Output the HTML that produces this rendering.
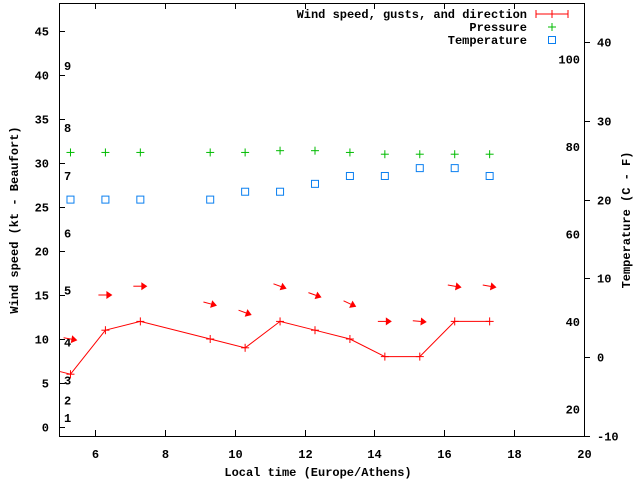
<!DOCTYPE html>
<html><head><meta charset="utf-8"><style>
body{margin:0;background:#fff}
svg{display:block}
text{font-family:"Liberation Mono","DejaVu Sans Mono",monospace;font-size:12px;font-weight:bold;fill:#000}
</style></head><body>
<svg id="chart" width="640" height="480" viewBox="0 0 640 480" xmlns="http://www.w3.org/2000/svg">
<g id="axes"></g>
<g id="marks"></g>
<g id="legend">
  <text x="527" y="18" text-anchor="end">Wind speed, gusts, and direction</text>
  <g stroke="#f00" stroke-width="1">
    <line x1="536" y1="14" x2="568" y2="14"/><line x1="536" y1="10" x2="536" y2="18"/><line x1="568" y1="10" x2="568" y2="18"/><line x1="552" y1="10" x2="552" y2="18"/>
  </g>
  <text x="527" y="31" text-anchor="end">Pressure</text>
  <g stroke="#0b0"><line x1="548" y1="27" x2="556" y2="27"/><line x1="552" y1="23" x2="552" y2="31"/></g>
  <text x="527" y="44" text-anchor="end">Temperature</text>
  <rect x="548.5" y="36.5" width="7" height="7" fill="none" stroke="#0a7ff0"/>
</g>
</svg>
<script>
const times=[5.3,6.3,7.3,9.3,10.3,11.3,12.3,13.3,14.3,15.3,16.3,17.3];
const windSpeed=[6,11,12,10,9,12,11,10,8,8,12,12];
const gusts=[10,15,16,14,13,16,15,14,12,12,16,16];
const windDirDeg=[280,270,270,285,290,290,290,295,270,275,280,280];
const pressure=[31.2,31.2,31.2,31.2,31.2,31.4,31.4,31.2,31.0,31.0,31.0,31.0];
const temperature=[20,20,20,20,21,21,22,23,23,24,24,23];
const xTicks=[6,8,10,12,14,16,18,20];
const yTicks=[0,5,10,15,20,25,30,35,40,45];
const cTicks=[-10,0,10,20,30,40];
const fTicks=[20,40,60,80,100];
const bftNums=[1,2,3,4,5,6,7,8,9];
const bftSpeeds=[1,3,5.3,9.6,15.5,22,28.5,34,41];

const L=59,R=584,T=3,B=436;
const X=v=>60+(v-5)*34.93;
const Y=v=>427-v*8.8;
const YC=c=>357-c*7.87;
const NS="http://www.w3.org/2000/svg";
function mk(tag,attrs,parent,txt){const e=document.createElementNS(NS,tag);for(const k in attrs)e.setAttribute(k,attrs[k]);if(txt!==undefined)e.textContent=txt;parent.appendChild(e);return e;}
const ax=document.getElementById('axes'),mg=document.getElementById('marks');

let fr=mk('rect',{x:L+.5,y:T+.5,width:R-L,height:B-T,fill:'none',stroke:'#000'},ax);


xTicks.forEach(v=>{const x=Math.round(X(v))+.5;
 mk('line',{x1:x,x2:x,y1:B,y2:B-6,stroke:'#000'},ax);
 mk('line',{x1:x,x2:x,y1:T,y2:T+6,stroke:'#000'},ax);
 const t=mk('text',{x:x,y:B+22,'text-anchor':'middle'},ax,String(v));
 
 });
yTicks.forEach(v=>{const y=Math.round(Y(v))+.5;
 mk('line',{x1:L,x2:L+6,y1:y,y2:y,stroke:'#000'},ax);
 const t=mk('text',{x:L-10,y:y+4,'text-anchor':'end'},ax,String(v));
 
 });
cTicks.forEach(v=>{const y=Math.round(YC(v))+.5;
 mk('line',{x1:R,x2:R+6,y1:y,y2:y,stroke:'#000'},ax);
 const t=mk('text',{x:R+13,y:y+4},ax,String(v));
 
 });
fTicks.forEach(v=>{const y=YC((v-32)*5/9);
 const t=mk('text',{x:R-4,y:y+4,'text-anchor':'end'},ax,String(v));
 
 });
bftNums.forEach((n,i)=>{const t=mk('text',{x:64,y:Y(bftSpeeds[i])+4},ax,String(n));
 
 });
let xt=mk('text',{x:318,y:476,'text-anchor':'middle'},ax,'Local time (Europe/Athens)');

let yt=mk('text',{x:18,y:220,'text-anchor':'middle',transform:'rotate(-90 18 220)'},ax,'Wind speed (kt - Beaufort)');

let y2=mk('text',{x:630,y:220,'text-anchor':'middle',transform:'rotate(-90 630 220)'},ax,'Temperature (C - F)');


// wind line
let pts=[[L+1,Y(6.3)]].concat(times.map((t,i)=>[X(t),Y(windSpeed[i])]));
let wl=mk('polyline',{points:pts.map(p=>p.join(',')).join(' '),fill:'none',stroke:'#f00'},mg);


times.forEach((t,i)=>{const x=X(t),y=Y(windSpeed[i]);
 const g=mk('g',{stroke:'#f00'},mg);
 
 
 mk('line',{x1:x-4,x2:x+4,y1:y,y2:y},g);mk('line',{x1:x,x2:x,y1:y-4,y2:y+4},g);
 // gust arrow
 const a=(windDirDeg[i]-270)*Math.PI/180; const gx=X(t),gy=Y(gusts[i]);
 const dx=Math.cos(a),dy=Math.sin(a);
 const hx=gx+dx*7,hy=gy+dy*7,tx=gx-dx*7,ty=gy-dy*7;
 const ar=mk('g',{},mg);
 
 
 mk('line',{x1:tx,y1:ty,x2:hx-dx*4,y2:hy-dy*4,stroke:'#f00'},ar);
 const px=-dy,py=dx;
 mk('polygon',{points:`${hx},${hy} ${hx-dx*6+px*4},${hy-dy*6+py*4} ${hx-dx*6-px*4},${hy-dy*6-py*4}`,fill:'#f00'},ar);
 // pressure
 const py2=Y(pressure[i]);
 const pg=mk('g',{stroke:'#0b0'},mg);
 
 
 mk('line',{x1:x-4,x2:x+4,y1:py2,y2:py2},pg);mk('line',{x1:x,x2:x,y1:py2-4,y2:py2+4},pg);
 // temperature
 const ty2=YC(temperature[i]);
 const r=mk('rect',{x:x-3.5,y:ty2-3.5,width:7,height:7,fill:'none',stroke:'#0a7ff0'},mg);
 
 
});
</script>
</body></html>
